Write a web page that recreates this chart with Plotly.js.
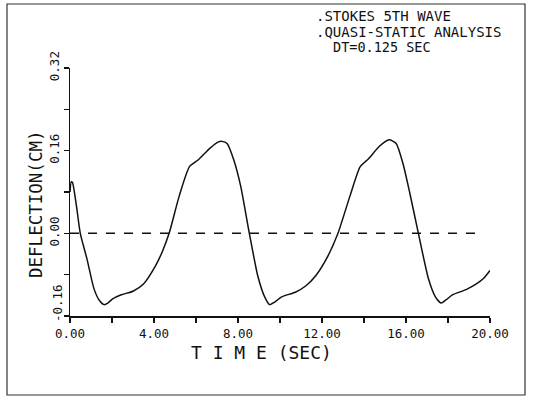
<!DOCTYPE html>
<html>
<head>
<meta charset="utf-8">
<script src="https://cdn.plot.ly/plotly-3.0.1.min.js"></script>
<style>html,body{margin:0;padding:0;background:#fff;}#chart{width:533px;height:398px;}</style>
</head>
<body>
<div id="chart"></div>
<script>
// Time (sec) and deflection (cm)
const timeSec = [0, 0.06, 0.12, 0.3, 0.49, 0.81, 1.14, 1.4, 1.63, 1.8, 2.03, 2.44, 3.0, 3.5, 4.07, 4.4, 4.72, 5.2, 5.69, 6.1, 6.67, 7.07, 7.24, 7.48, 7.8, 8.13, 8.54, 8.94, 9.27, 9.51, 9.75, 10.08, 10.73, 11.22, 11.7, 12.28, 12.76, 13.33, 13.82, 14.23, 14.72, 15.2, 15.53, 15.85, 16.18, 16.59, 17.07, 17.4, 17.67, 17.9, 18.21, 18.86, 19.35, 19.7, 20.0];
const deflectionCm = [0.08, 0.1, 0.098, 0.055, 0.0, -0.05, -0.107, -0.13, -0.138, -0.135, -0.127, -0.119, -0.112, -0.098, -0.063, -0.035, 0.0, 0.072, 0.129, 0.142, 0.165, 0.177, 0.178, 0.174, 0.142, 0.091, 0.0, -0.082, -0.123, -0.138, -0.133, -0.123, -0.114, -0.102, -0.082, -0.044, 0.0, 0.072, 0.129, 0.145, 0.168, 0.181, 0.174, 0.136, 0.078, 0.0, -0.088, -0.123, -0.135, -0.129, -0.119, -0.109, -0.098, -0.087, -0.072];
const zeroLineX = [0, 19.66];
const zeroLineY = [0, 0];

// tick labels
const yTickVals = [-0.16, 0, 0.16, 0.32];
const yTickText = ['', '0.00', '0.16', '0.32'];   // bottom label drawn separately, raised like the original
const yBottomLabel = '-0.16';

const titleLines = [".STOKES 5TH WAVE", ".QUASI-STATIC ANALYSIS", "DT=0.125 SEC"];
const xTitle = 'T I M E (SEC)';
const yTitle = 'DEFLECTION(CM)';

const ink = '#111';
const fontFam = '"DejaVu Sans Mono", "Liberation Mono", monospace';
const W = 420, H = 248, L = 70, T = 68;
const px = v => (v - L) / W;
const py = v => (T + H - v) / H;

const traces = [
  {x: zeroLineX, y: zeroLineY, mode: 'lines', line: {color: ink, width: 1.5, dash: 'dash'}, hoverinfo: 'skip', showlegend: false},
  {x: timeSec, y: deflectionCm, mode: 'lines', line: {color: ink, width: 1.5, shape: 'spline', smoothing: 0.6}, showlegend: false}
];

const layout = {
  width: 533, height: 398,
  margin: {l: L, r: 533 - L - W, t: T, b: 398 - T - H},
  paper_bgcolor: '#fff', plot_bgcolor: '#fff',
  font: {family: fontFam, color: ink, size: 12.5},
  xaxis: {
    range: [0, 20], dtick: 4, tick0: 0, tickformat: '.2f',
    showgrid: false, zeroline: false, showline: true, linecolor: ink, linewidth: 1.5,
    ticks: 'outside', ticklen: 5, tickcolor: ink, tickwidth: 1.5,
    minor: {dtick: 2, ticks: 'outside', ticklen: 5, tickcolor: ink, tickwidth: 1.5, showgrid: false},
    tickfont: {size: 12.5, family: fontFam, color: ink}
  },
  yaxis: {
    range: [-0.16, 0.32], tickmode: 'array', tickvals: yTickVals, ticktext: yTickText,
    showgrid: false, zeroline: false, showline: true, linecolor: ink, linewidth: 1.5,
    ticks: 'outside', ticklen: 5, tickcolor: ink, tickwidth: 1.5, tickangle: -90,
    minor: {tickmode: 'linear', tick0: 0, dtick: 0.08, ticks: 'outside', ticklen: 5, tickcolor: ink, tickwidth: 1.5, showgrid: false},
    tickfont: {size: 12.5, family: fontFam, color: ink}
  },
  shapes: [
    {type: 'rect', xref: 'paper', yref: 'paper', x0: px(7), x1: px(525), y0: py(395), y1: py(4),
     line: {color: '#333', width: 1.2}}
  ],
  annotations: [
    {xref: 'paper', yref: 'paper', x: px(314), y: py(16.5), xanchor: 'left', yanchor: 'middle', text: titleLines[0], showarrow: false, font: {size: 14, family: fontFam, color: ink}},
    {xref: 'paper', yref: 'paper', x: px(314), y: py(32), xanchor: 'left', yanchor: 'middle', text: titleLines[1], showarrow: false, font: {size: 14, family: fontFam, color: ink}},
    {xref: 'paper', yref: 'paper', x: px(331), y: py(46.5), xanchor: 'left', yanchor: 'middle', text: titleLines[2], showarrow: false, font: {size: 13.5, family: fontFam, color: ink}},
    {xref: 'paper', yref: 'paper', x: px(261.5), y: py(352), xanchor: 'center', yanchor: 'middle', text: xTitle, showarrow: false, font: {size: 18, family: fontFam, color: ink}},
    {xref: 'paper', yref: 'paper', x: px(36), y: py(204), xanchor: 'center', yanchor: 'middle', textangle: -90, text: yTitle, showarrow: false, font: {size: 17.5, family: fontFam, color: ink}},
    {xref: 'paper', yref: 'y', x: px(57), y: yTickVals[0], xanchor: 'center', yanchor: 'middle', yshift: 13, textangle: -90, text: yBottomLabel, showarrow: false, font: {size: 12.5, family: fontFam, color: ink}}
  ]
};

Plotly.newPlot('chart', traces, layout, {staticPlot: true, displayModeBar: false});
</script>
</body>
</html>
